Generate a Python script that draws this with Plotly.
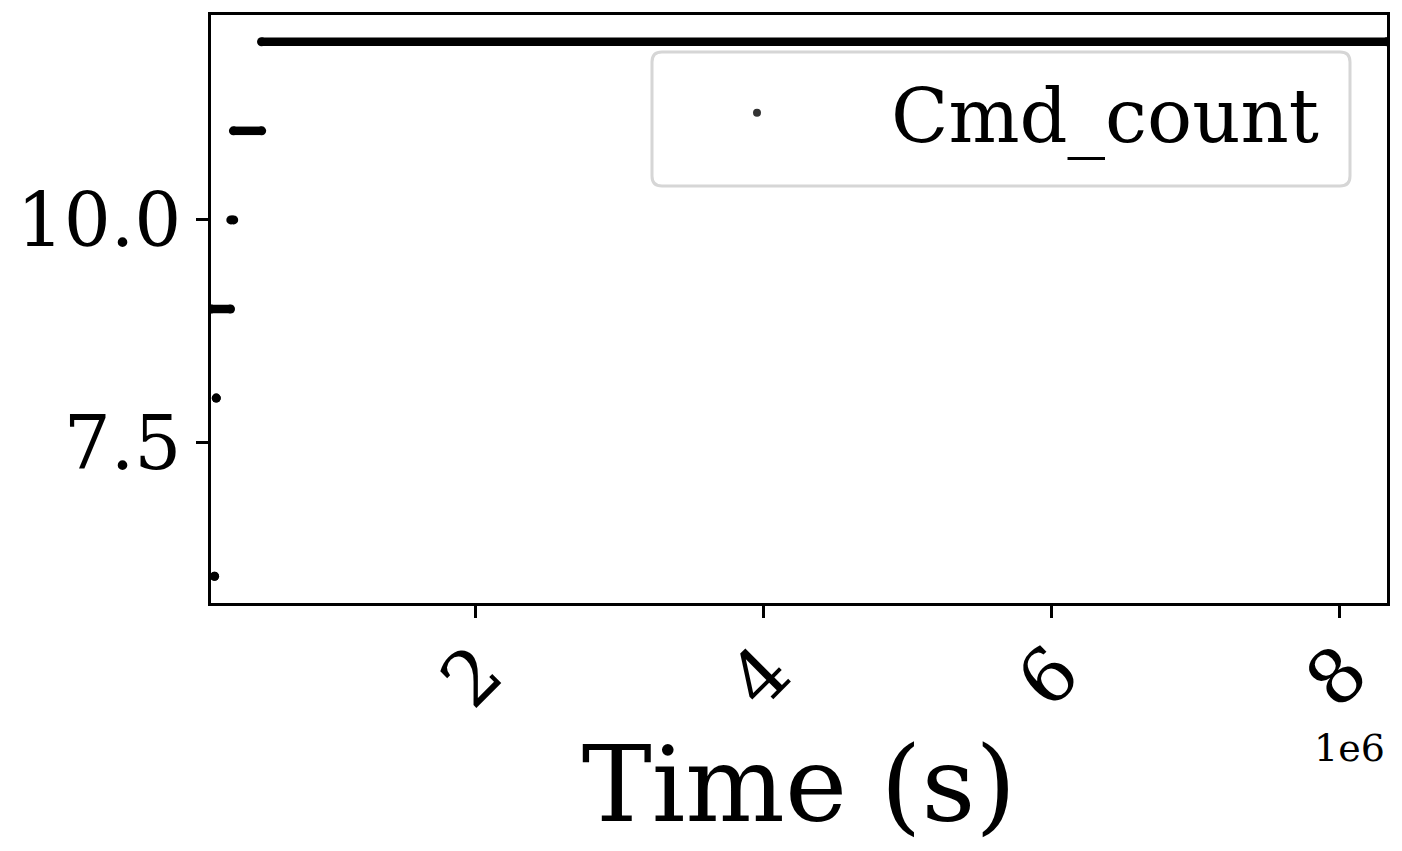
import plotly.graph_objects as go

# Data: step levels of Cmd_count over time (each level drawn as a run of points)
level_counts = [6, 8, 9, 10, 11, 12]
level_start_time = [0.193e6, 0.205e6, 0.1685e6, 0.306e6, 0.324e6, 0.519e6]
level_end_time = [0.193e6, 0.205e6, 0.304e6, 0.326e6, 0.520e6, 8.3265e6]

x_range = [0.1685e6, 8.3265e6]
y_range = [5.7, 12.3]
x_tickvals = [2e6, 4e6, 6e6, 8e6]
x_ticktext = ["2", "4", "6", "8"]
y_tickvals = [7.5, 10.0]
y_ticktext = ["7.5", "10.0"]

FONT = "DejaVu Serif"
W, H = 1402, 851
L, R, T, B = 211, 1387, 15, 603

fig = go.Figure()
for c, s, e in zip(level_counts, level_start_time, level_end_time):
    fig.add_trace(go.Scatter(
        x=[s, e], y=[c, c], mode="lines+markers",
        line=dict(color="black", width=8.5),
        marker=dict(color="black", size=9),
        showlegend=False, hoverinfo="skip",
    ))

# legend entry
fig.add_trace(go.Scatter(
    x=[None], y=[None], mode="markers", name="Cmd_count",
    marker=dict(color="#333333", size=8), showlegend=True,
))

def px2paper(px, py):
    return (px - L) / (R - L), (B - py) / (B - T)

# rounded legend frame
x0, y0 = 652, 52
x1, y1 = 1350, 186
r = 10
def P(px, py):
    a, b = px2paper(px, py)
    return f"{a:.5f},{b:.5f}"
path = (f"M{P(x0+r,y0)} L{P(x1-r,y0)} Q{P(x1,y0)} {P(x1,y0+r)} "
        f"L{P(x1,y1-r)} Q{P(x1,y1)} {P(x1-r,y1)} L{P(x0+r,y1)} "
        f"Q{P(x0,y1)} {P(x0,y1-r)} L{P(x0,y0+r)} Q{P(x0,y0)} {P(x0+r,y0)} Z")
fig.add_shape(type="path", path=path, xref="paper", yref="paper",
              line=dict(color="#d6d6d6", width=3), fillcolor="white", layer="above")

lx, ly = px2paper(623, 113)
fig.update_layout(
    width=W, height=H,
    margin=dict(l=L, r=W - R, t=T, b=H - B),
    paper_bgcolor="white", plot_bgcolor="white",
    font=dict(family=FONT, color="black"),
    showlegend=True,
    legend=dict(
        x=lx, y=ly, xanchor="left", yanchor="middle",
        bgcolor="rgba(0,0,0,0)", borderwidth=0,
        font=dict(family=FONT, size=75, color="black"),
        itemwidth=258,
    ),
    xaxis=dict(
        range=x_range, tickvals=x_tickvals, ticktext=x_ticktext,
        tickangle=-45, tickfont=dict(family=FONT, size=75, color="black"),
        ticklabelstandoff=-19, ticklabelshift=5,
        showline=True, linecolor="black", linewidth=2.5, mirror=True,
        ticks="outside", ticklen=12, tickwidth=2.5, tickcolor="black",
        showgrid=False, zeroline=False,
        title=dict(text="Time (s)", font=dict(family=FONT, size=105, color="black"), standoff=4),
    ),
    yaxis=dict(
        range=y_range, tickvals=y_tickvals, ticktext=y_ticktext,
        tickfont=dict(family=FONT, size=74, color="black"),
        showline=True, linecolor="black", linewidth=2.5, mirror=True,
        ticks="outside", ticklen=12, tickwidth=2.5, tickcolor="black",
        showgrid=False, zeroline=False,
    ),
)
fig.add_annotation(
    text="1e6", xref="paper", yref="paper", x=1.0, y=px2paper(0, 748)[1],
    xanchor="right", yanchor="middle", showarrow=False,
    font=dict(family=FONT, size=38, color="black"),
)

fig.write_html("out.html")
